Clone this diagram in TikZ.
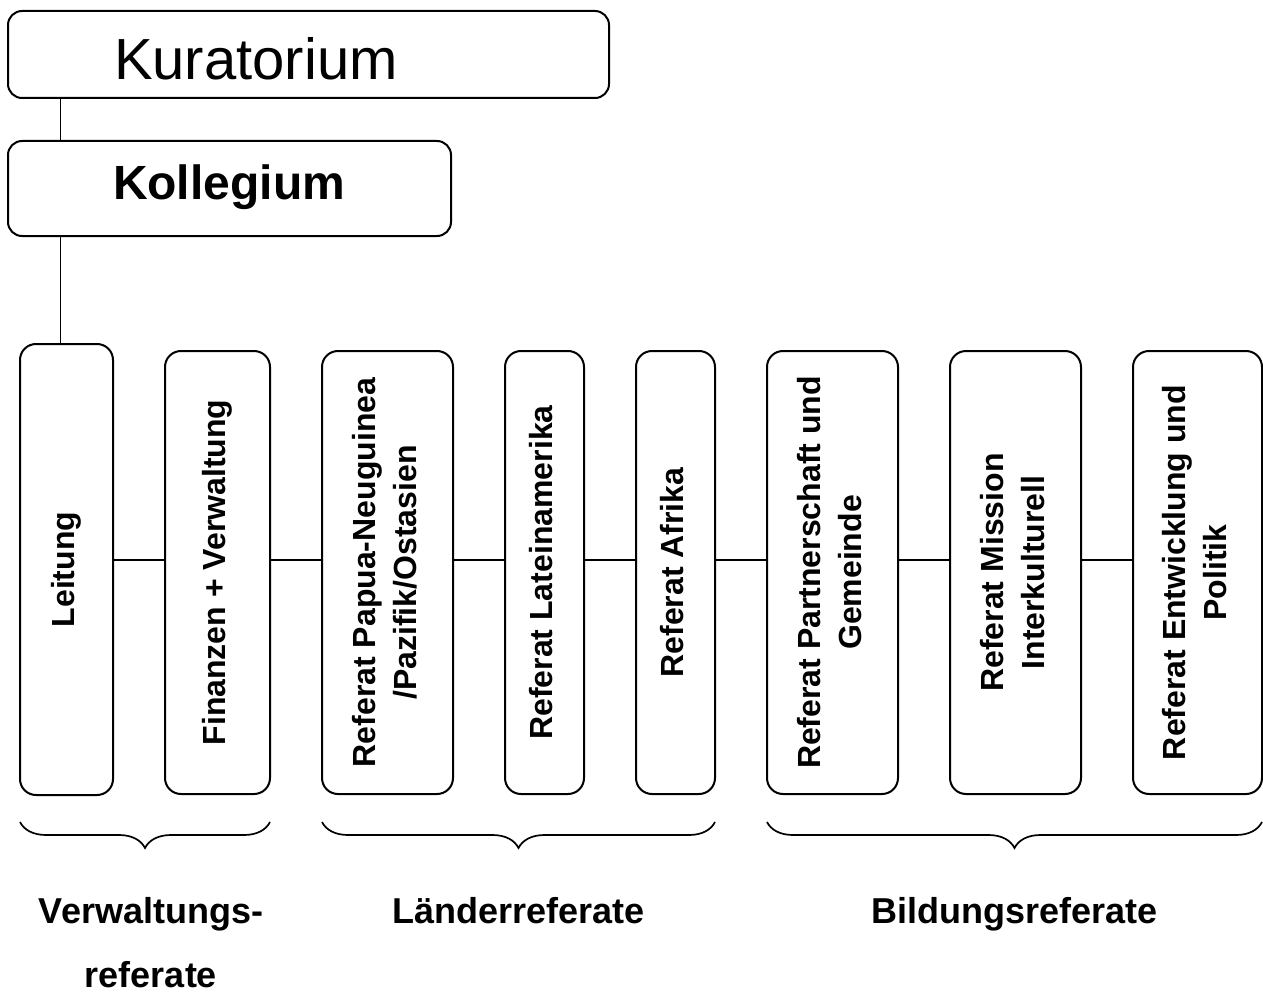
\documentclass[tikz,border=0pt]{standalone}
\usepackage{fontspec}
\setmainfont{Liberation Sans}
\usepackage{graphicx}
\usetikzlibrary{positioning,calc,decorations.pathreplacing}
\newcommand{\vlab}[1]{\rotatebox{90}{\begin{tabular}{@{}c@{}}#1\end{tabular}}}
\tikzset{
  topbox/.style  ={draw, rounded corners=14pt, line width=2pt, outer sep=0pt, inner ysep=0pt, align=left},
  refbox/.style  ={draw, rounded corners=16pt, line width=2pt, outer sep=0pt, inner sep=0pt, minimum height=443pt, font=\fontsize{32}{41}\selectfont\bfseries},
  link/.style    ={line width=1.8pt},
  grpbrace/.style={decorate, decoration={brace, mirror, amplitude=26pt}, line width=1.7pt},
  grp/.style     ={align=center, inner sep=0pt, font=\fontsize{36}{64}\selectfont\bfseries},
}

\begin{document}
\begin{tikzpicture}[x=1pt, y=-1pt, node distance=52pt]
  \useasboundingbox (0,0) rectangle (1263,995);
  \node[topbox, minimum width=601pt, minimum height=87pt, inner xsep=106pt, text width=389pt,
        text height=50pt, text depth=0pt, font=\fontsize{58}{60}\selectfont] (kur) at (308.5,54.5) {Kuratorium};
  \node[topbox, minimum width=443pt, minimum height=95pt, inner xsep=105pt, text width=233pt,
        text height=35pt, text depth=12pt, font=\fontsize{48}{50}\selectfont\bfseries] (koll) at (229.5,188.5) {Kollegium};

  \node[refbox, minimum width=93pt, minimum height=451pt] (leit) at (66.5,569.5) {\vlab{Leitung}};
  \node[refbox, minimum width=105pt] (fin) at (217.5,572.5) {\vlab{Finanzen + Verwaltung}};
  \node[refbox, minimum width=131pt, right=of fin] (pap) {\vlab{Referat Papua-Neuguinea\\/Pazifik/Ostasien}};
  \node[refbox, minimum width=79pt, right=of pap] (lat) {\vlab{Referat Lateinamerika}};
  \node[refbox, minimum width=79pt, right=of lat] (afr) {\vlab{Referat Afrika}};
  \node[refbox, minimum width=131pt, right=of afr] (part) {\vlab{Referat Partnerschaft und\\Gemeinde}};
  \node[refbox, minimum width=131pt, right=of part] (miss) {\vlab{Referat Mission\\Interkulturell}};
  \node[refbox, minimum width=129pt, right=of miss] (entw) {\vlab{Referat Entwicklung und\\Politik}};

  % connectors
  \coordinate (spine) at (60.5,0);
  \coordinate (hl) at (0,560);
  \coordinate (brc) at (0,822);
  \draw[link] (kur.south -| spine) -- (koll.north -| spine);
  \draw[link] (koll.south -| spine) -- (leit.north -| spine);
  \foreach \a/\b in {leit/fin,fin/pap,pap/lat,lat/afr,afr/part,part/miss,miss/entw}
    \draw[link] (\a.east |- hl) -- (\b.west |- hl);

  % groups
  \draw[grpbrace] (leit.south west |- brc) -- coordinate[pos=.5] (vtip) (fin.south east |- brc);
  \draw[grpbrace] (pap.south west |- brc) -- coordinate[pos=.5] (ltip) (afr.south east |- brc);
  \draw[grpbrace] (part.south west |- brc) -- coordinate[pos=.5] (btip) (entw.south east |- brc);
  \node[grp, below=75pt of vtip, xshift=6pt] (vwr) {Verwaltungs-\\referate};
  \node[grp, below=75pt of ltip] (lnd) {Länderreferate};
  \node[grp, below=75pt of btip] (bld) {Bildungsreferate};
\end{tikzpicture}
\end{document}
